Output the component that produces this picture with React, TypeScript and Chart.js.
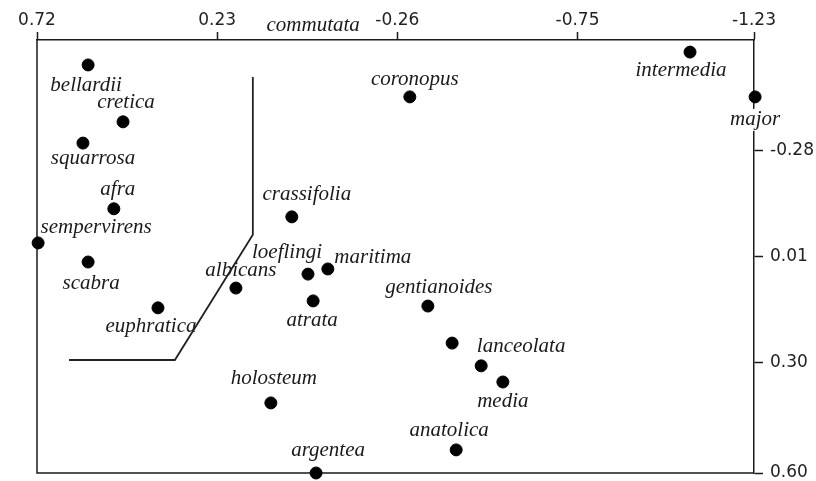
import React, { useEffect, useRef } from "react";
import { Chart, registerables } from "chart.js";

Chart.register(...registerables);

const names = [
  "commutata", "intermedia", "major", "coronopus", "bellardii", "cretica",
  "squarrosa", "afra", "sempervirens", "scabra", "euphratica", "albicans",
  "crassifolia", "loeflingi", "maritima", "atrata", "gentianoides",
  "lanceolata", "", "media", "holosteum", "anatolica", "argentea",
];
const xValues = [
  -0.178, -1.056, -1.233, -0.294, 0.581, 0.486,
  0.595, 0.511, 0.717, 0.581, 0.391, 0.179,
  0.027, -0.017, -0.071, -0.031, -0.343,
  -0.409, -0.488, -0.547, 0.084, -0.42, -0.039,
];
const yValues = [
  -0.656, -0.547, -0.425, -0.425, -0.512, -0.357,
  -0.299, -0.12, -0.027, 0.025, 0.15, 0.096,
  -0.098, 0.058, 0.044, 0.131, 0.145,
  0.246, 0.308, 0.352, 0.409, 0.537, 0.6,
];
// label placement relative to its point (px)
const labelOffsets: [number, number][] = [
  [-54, 13], [-9, 18], [0, 23], [5, -17], [-2, 21], [3, -19],
  [10, 15], [4, -19], [58, -15], [3, 21], [-7, 19], [5, -18],
  [15, -22], [-21, -22], [45, -11], [-1, 20], [11, -19],
  [69, 3], [0, 0], [0, 19], [3, -24], [-7, -19], [12, -23],
];

const pathX = [0.633, 0.345, 0.133, 0.133];
const pathY = [0.292, 0.292, -0.049, -0.479];

const xTicks = [0.72, 0.23, -0.26, -0.75, -1.23];
const xTickLabels = ["0.72", "0.23", "-0.26", "-0.75", "-1.23"];
const yTicks = [-0.28, 0.01, 0.3, 0.6];
const yTickLabels = ["-0.28", "0.01", "0.30", "0.60"];

const labelFont = "italic 21px 'Liberation Serif', 'Times New Roman', serif";
const tickFont = { family: "'DejaVu Sans', sans-serif", size: 17 };
const ink = "#1a1a1a";

const labelPlugin = {
  id: "pointLabels",
  beforeDatasetsDraw(chart: any) {
    const { ctx, chartArea } = chart;
    ctx.save();
    ctx.strokeStyle = ink;
    ctx.lineWidth = 1.5;
    ctx.beginPath();
    ctx.moveTo(chartArea.left, chartArea.top);
    ctx.lineTo(chartArea.left, chartArea.bottom);
    ctx.lineTo(chartArea.right, chartArea.bottom);
    ctx.stroke();
    ctx.restore();
  },
  beforeDatasetDraw(chart: any, args: any) {
    if (args.index !== 1) return;
    const { ctx } = chart;
    const xs = chart.scales.x;
    const ys = chart.scales.y;
    ctx.save();
    ctx.font = labelFont;
    ctx.textAlign = "center";
    ctx.textBaseline = "middle";
    names.forEach((n, i) => {
      if (!n) return;
      const px = xs.getPixelForValue(xValues[i]) + labelOffsets[i][0];
      const py = ys.getPixelForValue(yValues[i]) + labelOffsets[i][1];
      const w = ctx.measureText(n).width;
      ctx.fillStyle = "#ffffff";
      ctx.fillRect(px - w / 2 - 1, py - 11, w + 4, 22);
      ctx.fillStyle = ink;
      ctx.fillText(n, px, py);
    });
    ctx.restore();
  },
};

export default function App() {
  const ref = useRef<HTMLCanvasElement | null>(null);
  useEffect(() => {
    if (!ref.current) return;
    const chart = new Chart(ref.current, {
      type: "scatter",
      data: {
        datasets: [
          {
            data: pathX.map((x, i) => ({ x, y: pathY[i] })),
            showLine: true,
            borderColor: "#222222",
            borderWidth: 1.8,
            pointRadius: 0,
            pointHoverRadius: 0,
          },
          {
            data: xValues.map((x, i) => ({ x, y: yValues[i] })),
            backgroundColor: "#000000",
            borderColor: "#000000",
            pointRadius: 6,
            clip: false as any,
          },
        ],
      },
      options: {
        animation: false,
        responsive: false,
        devicePixelRatio: 1,
        layout: { padding: { left: 37, right: 0, top: 0, bottom: 8 } },
        plugins: { legend: { display: false }, tooltip: { enabled: false } },
        scales: {
          x: {
            type: "linear",
            position: "top",
            reverse: true,
            min: -1.23,
            max: 0.72,
            afterBuildTicks: (s: any) => {
              s.ticks = xTicks.map((v) => ({ value: v }));
            },
            afterFit: (s: any) => {
              s.height = 40;
              s.paddingLeft = 0;
              s.paddingRight = 0;
            },
            grid: {
              display: true,
              drawOnChartArea: false,
              drawTicks: true,
              tickLength: 8,
              tickWidth: 1.5,
              color: ink,
            },
            border: { display: true, color: ink, width: 1.5 },
            ticks: {
              autoSkip: false,
              maxRotation: 0,
              padding: 1,
              color: "#222",
              font: tickFont,
              callback: (_v: any, i: number) => xTickLabels[i],
            },
          },
          y: {
            type: "linear",
            position: "right",
            reverse: true,
            min: -0.58,
            max: 0.6,
            afterBuildTicks: (s: any) => {
              s.ticks = yTicks.map((v) => ({ value: v }));
            },
            afterFit: (s: any) => {
              s.width = 62;
              s.paddingTop = 0;
              s.paddingBottom = 0;
            },
            grid: {
              display: true,
              drawOnChartArea: false,
              drawTicks: true,
              tickLength: 9,
              tickWidth: 1.5,
              color: ink,
            },
            border: { display: true, color: ink, width: 1.5 },
            ticks: {
              autoSkip: false,
              padding: 7,
              color: "#222",
              font: tickFont,
              callback: (_v: any, i: number) => yTickLabels[i],
            },
          },
        },
      },
      plugins: [labelPlugin],
    });
    return () => chart.destroy();
  }, []);
  return (
    <div style={{ position: "absolute", left: 0, top: 0, width: 816, height: 481, background: "#fff" }}>
      <canvas ref={ref} width={816} height={481} />
    </div>
  );
}
